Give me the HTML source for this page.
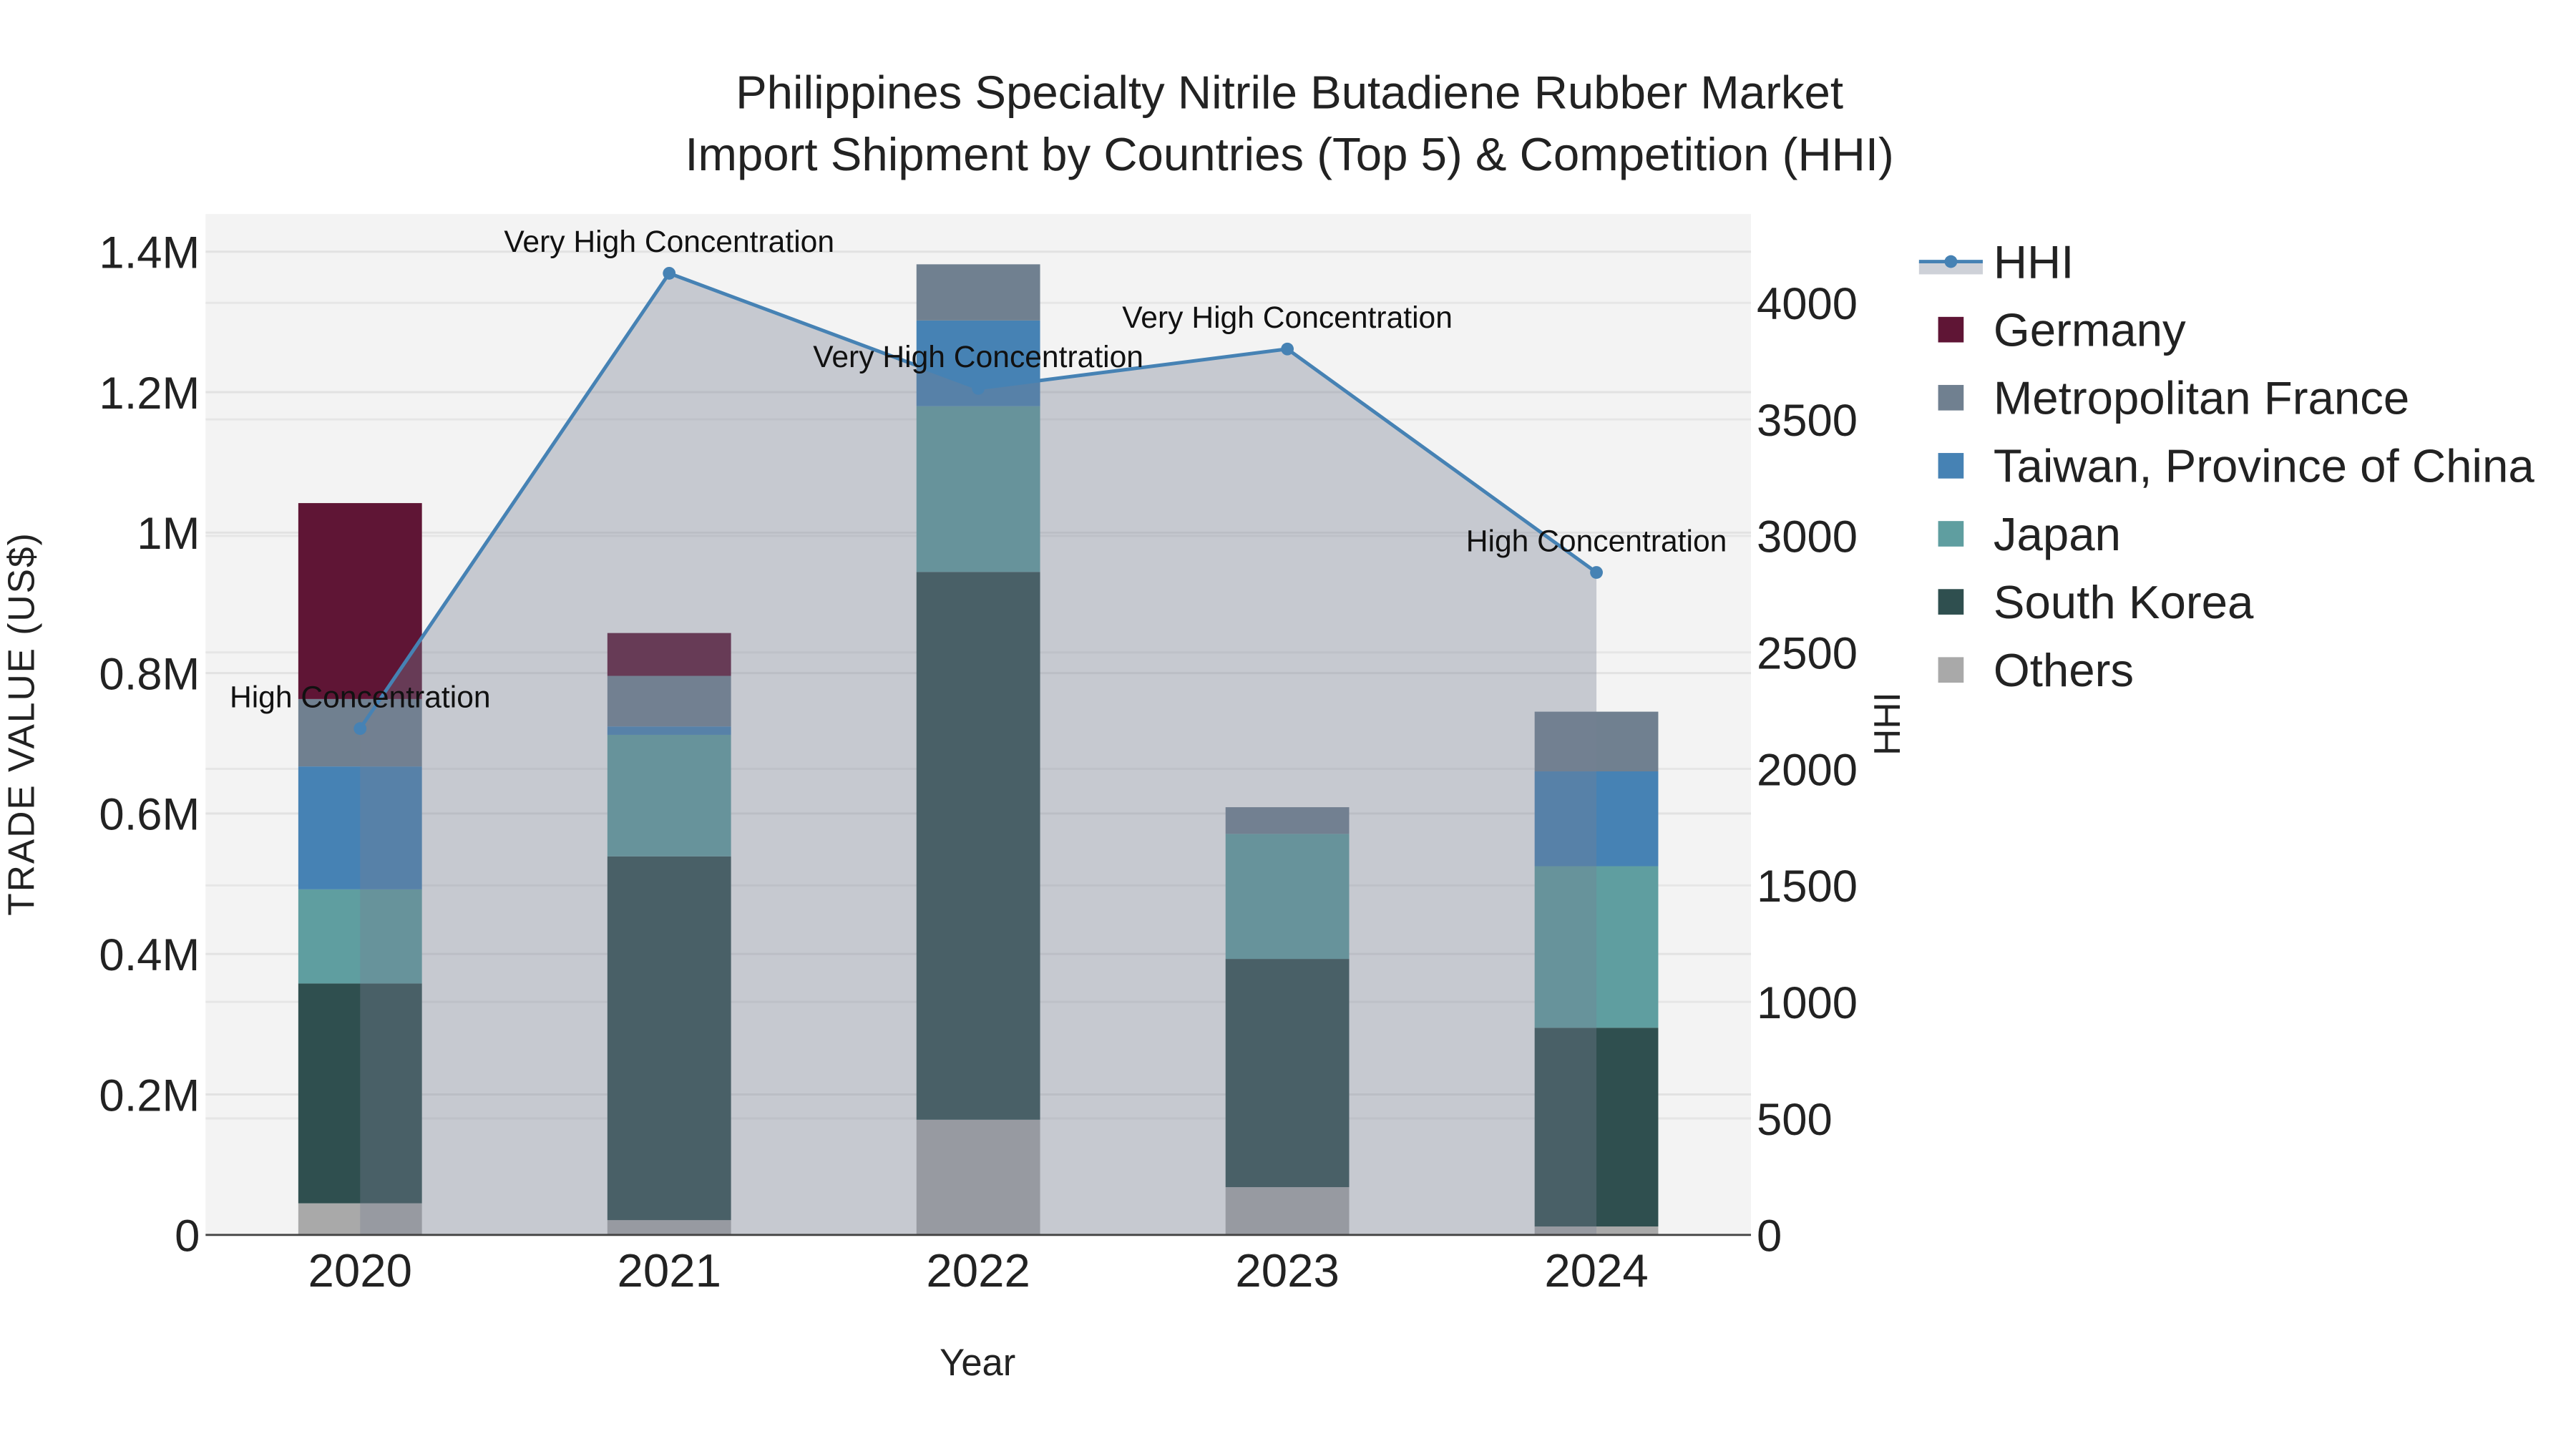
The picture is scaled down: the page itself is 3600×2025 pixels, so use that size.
<!DOCTYPE html>
<html><head><meta charset="utf-8"><style>
html,body{margin:0;padding:0;background:#fff;}
svg{display:block;font-family:"Liberation Sans",sans-serif;}
</style></head><body>
<svg id="chart" width="3600" height="2025" viewBox="0 0 3600 2025">
<rect x="0" y="0" width="3600" height="2025" fill="#ffffff"/>
<g transform="scale(0.9907)">
<text x="1819" y="153" font-size="66" text-anchor="middle" fill="#222">Philippines Specialty Nitrile Butadiene Rubber Market</text>
<text x="1819" y="240" font-size="66" text-anchor="middle" fill="#222">Import Shipment by Countries (Top 5) &amp; Competition (HHI)</text>
<rect x="290" y="302" width="2180" height="1440" fill="#f3f3f3"/>
<g id="grid"></g>
<g id="bars"></g>
<g id="hhi"></g>
<line x1="290" y1="1742" x2="2470" y2="1742" stroke="#444" stroke-width="3"/>
<g id="axes"></g>
<text x="1379" y="1940" font-size="53" text-anchor="middle" fill="#222">Year</text>
<text transform="translate(48,1021) rotate(-90)" font-size="52" text-anchor="middle" fill="#222" letter-spacing="2">TRADE VALUE (US$)</text>
<text transform="translate(2680,1021) rotate(-90)" font-size="52" text-anchor="middle" fill="#222">HHI</text>
<g id="legend"></g>
</g>
</svg>
<script>
const years = ["2020","2021","2022","2023","2024"];
const others = [0.045, 0.021, 0.164, 0.068, 0.012];
const southKorea = [0.313, 0.518, 0.780, 0.325, 0.283];
const japan = [0.134, 0.173, 0.236, 0.178, 0.230];
const taiwan = [0.175, 0.012, 0.122, 0.000, 0.135];
const france = [0.096, 0.072, 0.080, 0.038, 0.085];
const germany = [0.279, 0.061, 0.000, 0.000, 0.000];
const hhiValues = [2173, 4127, 3633, 3802, 2843];
const hhiLabels = ["High Concentration","Very High Concentration","Very High Concentration","Very High Concentration","High Concentration"];
const leftTicks = [0, 0.2, 0.4, 0.6, 0.8, 1.0, 1.2, 1.4];
const leftTickLabels = ["0","0.2M","0.4M","0.6M","0.8M","1M","1.2M","1.4M"];
const rightTicks = [0, 500, 1000, 1500, 2000, 2500, 3000, 3500, 4000];

const NS = "http://www.w3.org/2000/svg";
const X0 = 290, X1 = 2470, Y0 = 1742, YT = 302;
const LMAX = 1.4535, RMAX = 4381;
function xBand(i){ return X0 + (X1 - X0) / years.length * (i + 0.5); }
const bandW = (X1 - X0) / years.length;
function yL(v){ return Y0 - v / LMAX * (Y0 - YT); }
function yR(v){ return Y0 - v / RMAX * (Y0 - YT); }
function mk(tag, attrs, parent){ const e = document.createElementNS(NS, tag); for (const k in attrs) e.setAttribute(k, attrs[k]); parent.appendChild(e); return e; }

const grid = document.getElementById('grid');
const axes = document.getElementById('axes');
rightTicks.forEach((t, i) => {
  const y = yR(t);
  if (t > 0) {
    const l = mk('line', {x1: X0, x2: X1, y1: y, y2: y, stroke: '#e6e6e6', 'stroke-width': 3}, grid);
    
    
  }
  const tx = mk('text', {x: 2478, y: y + 23, 'font-size': 64, fill: '#222'}, axes);
  tx.textContent = t;
  
  
});
leftTicks.forEach((t, i) => {
  const y = yL(t);
  if (t > 0) {
    const l = mk('line', {x1: X0, x2: X1, y1: y, y2: y, stroke: '#e2e2e2', 'stroke-width': 3}, grid);
    
    
  }
  const tx = mk('text', {x: 282, y: y + 23, 'font-size': 64, fill: '#222', 'text-anchor': 'end'}, axes);
  tx.textContent = leftTickLabels[i];
  
  
});
years.forEach((yr, i) => {
  const tx = mk('text', {x: xBand(i), y: 1815, 'font-size': 66, fill: '#222', 'text-anchor': 'middle'}, axes);
  tx.textContent = yr;
  
  
});

const series = [
  {name: 'Others', vals: others, color: '#a9a9a9'},
  {name: 'South Korea', vals: southKorea, color: '#2f4f4f'},
  {name: 'Japan', vals: japan, color: '#5f9ea0'},
  {name: 'Taiwan, Province of China', vals: taiwan, color: '#4682b4'},
  {name: 'Metropolitan France', vals: france, color: '#708090'},
  {name: 'Germany', vals: germany, color: '#5f1535'}
];
const bars = document.getElementById('bars');
const bw = bandW * 0.4;
years.forEach((yr, i) => {
  let base = 0;
  series.forEach(s => {
    const v = s.vals[i];
    if (v > 0) {
      const r = mk('rect', {x: xBand(i) - bw / 2, y: yL(base + v), width: bw, height: yL(base) - yL(base + v), fill: s.color}, bars);
      
      
    }
    base += v;
  });
});

const hhi = document.getElementById('hhi');
let pts = hhiValues.map((v, i) => xBand(i) + ',' + yR(v));
let areaD = 'M' + xBand(0) + ',' + Y0 + ' L' + pts.join(' L') + ' L' + xBand(years.length - 1) + ',' + Y0 + ' Z';
const area = mk('path', {d: areaD, fill: 'rgba(120,128,146,0.36)'}, hhi);


const line = mk('polyline', {points: pts.join(' '), fill: 'none', stroke: '#4682b4', 'stroke-width': 5}, hhi);


hhiValues.forEach((v, i) => {
  const c = mk('circle', {cx: xBand(i), cy: yR(v), r: 9, fill: '#4682b4'}, hhi);
  
  
  const t = mk('text', {x: xBand(i), y: yR(v) - 30, 'font-size': 43, fill: '#111', 'text-anchor': 'middle'}, hhi);
  t.textContent = hhiLabels[i];
  
  
});

const legend = document.getElementById('legend');
const ly0 = 369, lsp = 96;
const lgHHI = mk('g', {}, legend);


mk('rect', {x: 2707, y: ly0, width: 90, height: 18, fill: 'rgba(120,128,146,0.36)'}, lgHHI);
mk('line', {x1: 2707, x2: 2797, y1: ly0, y2: ly0, stroke: '#4682b4', 'stroke-width': 5}, lgHHI);
mk('circle', {cx: 2752, cy: ly0, r: 9, fill: '#4682b4'}, lgHHI);
const th = mk('text', {x: 2812, y: ly0 + 23, 'font-size': 66, fill: '#222'}, lgHHI);
th.textContent = 'HHI';
const legendOrder = [5, 4, 3, 2, 1, 0];
legendOrder.forEach((si, k) => {
  const s = series[si];
  const y = ly0 + lsp * (k + 1);
  const g = mk('g', {}, legend);
  
  
  mk('rect', {x: 2734, y: y - 18, width: 36, height: 36, fill: s.color}, g);
  const t = mk('text', {x: 2812, y: y + 23, 'font-size': 66, fill: '#222'}, g);
  t.textContent = s.name;
});
</script>
</body></html>
